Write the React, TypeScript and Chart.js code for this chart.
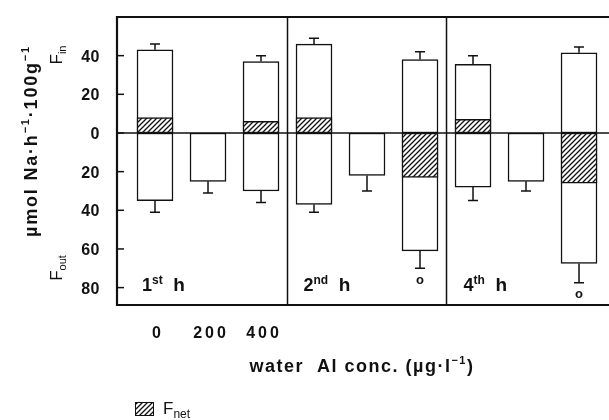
import React, { useEffect, useRef } from 'react';
import { Chart, registerables } from 'chart.js';
Chart.register(...registerables);

// ---- data ----
const concLabels = ['0', '200', '400'];
const panelNums = ['1', '2', '4'];
const panelSups = ['st', 'nd', 'th'];
const fin: (number | null)[] = [43, null, 37, 46, null, 38, 35.5, null, 41.5];
const finErr: (number | null)[] = [3, null, 3, 3, null, 4, 4.5, null, 3];
const fout: number[] = [35, 25, 30, 37, 22, 61, 28, 25, 67.5];
const foutErr: number[] = [6, 6, 6, 4, 8, 9, 7, 5, 10];
const fnet: (number | null)[] = [8, null, 6, 8, null, -23, 7, null, -26];
const sigMarks = ['', '', '', '', '', 'o', '', '', 'o'];
const yTickValues = [40, 20, 0, -20, -40, -60, -80];

const FONT = '"Liberation Sans", Arial, Helvetica, sans-serif';
const INK = '#111';

type Part = [string, number, number?];

function richWidth(ctx: CanvasRenderingContext2D, parts: Part[], weight: string, spacing: number) {
  let w = 0;
  for (const [t, s] of parts) {
    ctx.font = `${weight} ${s}px ${FONT}`;
    (ctx as any).letterSpacing = `${spacing}px`;
    w += ctx.measureText(t).width;
  }
  return w;
}

function drawRich(ctx: CanvasRenderingContext2D, parts: Part[], x: number, y: number, align: 'left' | 'center' | 'right', weight = 'bold', spacing = 0) {
  const total = richWidth(ctx, parts, weight, spacing);
  let cx = align === 'center' ? x - total / 2 : align === 'right' ? x - total : x;
  ctx.textAlign = 'left';
  ctx.textBaseline = 'alphabetic';
  ctx.fillStyle = INK;
  for (const [t, s, dy] of parts) {
    ctx.font = `${weight} ${s}px ${FONT}`;
    (ctx as any).letterSpacing = `${spacing}px`;
    ctx.fillText(t, cx, y + (dy || 0));
    cx += ctx.measureText(t).width;
  }
  (ctx as any).letterSpacing = '0px';
}

function makeHatch(): CanvasPattern | string {
  const c = document.createElement('canvas');
  const n = 5;
  c.width = n;
  c.height = n;
  const g = c.getContext('2d');
  if (!g) return '#888';
  g.fillStyle = '#fff';
  g.fillRect(0, 0, n, n);
  g.strokeStyle = INK;
  g.lineWidth = 1.3;
  g.beginPath();
  g.moveTo(-1, n + 1);
  g.lineTo(n + 1, -1);
  g.moveTo(-1, 1);
  g.lineTo(1, -1);
  g.moveTo(n - 1, n + 1);
  g.lineTo(n + 1, n - 1);
  g.stroke();
  const p = g.createPattern(c, 'repeat');
  return p || '#888';
}

const decorPlugin = {
  id: 'decor',
  afterDatasetsDraw(chart: any) {
    const { ctx, chartArea } = chart;
    const xs = chart.scales.x;
    const ys = chart.scales.y;
    const { left, right, top, bottom } = chartArea;
    ctx.save();
    ctx.strokeStyle = INK;
    ctx.lineCap = 'butt';

    // zero line
    ctx.lineWidth = 1.5;
    ctx.beginPath();
    const y0 = ys.getPixelForValue(0);
    ctx.moveTo(left, y0);
    ctx.lineTo(right, y0);
    ctx.stroke();

    // panel dividers
    ctx.lineWidth = 1.5;
    [2.5, 5.5].forEach((v) => {
      const px = xs.getPixelForValue(v);
      ctx.beginPath();
      ctx.moveTo(px, top);
      ctx.lineTo(px, bottom);
      ctx.stroke();
    });

    // frame
    ctx.lineWidth = 2.2;
    ctx.beginPath();
    ctx.moveTo(right, top);
    ctx.lineTo(left, top);
    ctx.lineTo(left, bottom);
    ctx.lineTo(right, bottom);
    ctx.stroke();

    // inward y ticks + labels (absolute values)
    ctx.lineWidth = 1.5;
    yTickValues.forEach((v) => {
      const py = ys.getPixelForValue(v);
      ctx.beginPath();
      ctx.moveTo(left, py);
      ctx.lineTo(left + 7, py);
      ctx.stroke();
      drawRich(ctx, [[String(Math.abs(v)), 16]], left - 17, py + 6, 'right', 'bold', 0.5);
    });

    // error bars
    ctx.lineWidth = 1.5;
    const cap = 5;
    for (let i = 0; i < fout.length; i++) {
      const px = xs.getPixelForValue(i);
      const fi = fin[i];
      const fe = finErr[i];
      if (fi != null && fe != null) {
        const a = ys.getPixelForValue(fi);
        const b = ys.getPixelForValue(fi + fe);
        ctx.beginPath();
        ctx.moveTo(px, a);
        ctx.lineTo(px, b);
        ctx.moveTo(px - cap, b);
        ctx.lineTo(px + cap, b);
        ctx.stroke();
      }
      const a2 = ys.getPixelForValue(-fout[i]);
      const b2 = ys.getPixelForValue(-fout[i] - foutErr[i]);
      ctx.beginPath();
      ctx.moveTo(px, a2);
      ctx.lineTo(px, b2);
      ctx.moveTo(px - cap, b2);
      ctx.lineTo(px + cap, b2);
      ctx.stroke();
      if (sigMarks[i]) {
        ctx.font = `bold 13px ${FONT}`;
        ctx.fillStyle = INK;
        ctx.textAlign = 'center';
        ctx.textBaseline = 'middle';
        ctx.fillText(sigMarks[i], px, b2 + 12);
      }
    }

    // panel labels
    const panelStarts = [left + 25, xs.getPixelForValue(2.5) + 16, xs.getPixelForValue(5.5) + 17];
    const labelY = ys.getPixelForValue(-82);
    panelNums.forEach((n, i) => {
      drawRich(ctx, [[n, 18], [panelSups[i], 12, -7], ['  h', 19]], panelStarts[i], labelY, 'left', 'bold', 0);
    });

    // x tick labels (first panel only)
    concLabels.forEach((t, i) => {
      drawRich(ctx, [[t, 16]], xs.getPixelForValue(i) + 3, bottom + 33, 'center', 'bold', 3);
    });

    // x title
    drawRich(ctx, [['water  Al conc. (\u00b5g\u00b7l', 18], ['\u22121', 11, -8], [')', 18]], 362, bottom + 67, 'center', 'bold', 1.5);

    // y title (rotated)
    ctx.save();
    ctx.translate(37, 141);
    ctx.rotate(-Math.PI / 2);
    drawRich(ctx, [['\u00b5mol Na\u00b7h', 18], ['\u22121', 11, -8], ['\u00b7100g', 18], ['\u22121', 11, -8]], 0, 0, 'center', 'bold', 1.8);
    ctx.restore();

    // F_in / F_out
    ctx.save();
    ctx.translate(62, 55);
    ctx.rotate(-Math.PI / 2);
    drawRich(ctx, [['F', 17], ['in', 11, 4]], 0, 0, 'center', 'normal', 0);
    ctx.restore();
    ctx.save();
    ctx.translate(62, 268);
    ctx.rotate(-Math.PI / 2);
    drawRich(ctx, [['F', 17], ['out', 11, 4]], 0, 0, 'center', 'normal', 0);
    ctx.restore();

    // legend
    const ds = chart.data.datasets[0];
    ctx.fillStyle = ds.backgroundColor;
    ctx.fillRect(135, 402, 18, 13);
    ctx.lineWidth = 1;
    ctx.strokeRect(135.5, 402.5, 18, 13);
    drawRich(ctx, [['F', 17], [ds.label.slice(1), 12, 4]], 163, 414, 'left', 'normal', 0);

    ctx.restore();
  },
};

export default function App() {
  const ref = useRef<HTMLCanvasElement>(null);
  useEffect(() => {
    if (!ref.current) return;
    const hatch = makeHatch();
    const netData: any[] = [];
    const inData: any[] = [];
    const outData: any[] = [];
    for (let i = 0; i < fout.length; i++) {
      const n = fnet[i];
      const f = fin[i];
      if (n != null) netData.push({ x: i, y: [0, n] });
      if (f != null) inData.push({ x: i, y: [0, f] });
      outData.push({ x: i, y: [-fout[i], 0] });
    }
    const common = {
      grouped: false,
      barThickness: 36,
      borderColor: INK,
      borderWidth: 1.5,
      borderSkipped: false as const,
    };
    const chart = new Chart(ref.current, {
      type: 'bar',
      data: {
        datasets: [
          { label: 'Fnet', data: netData, backgroundColor: hatch as any, ...common },
          { label: 'Fin', data: inData, backgroundColor: '#fff', ...common },
          { label: 'Fout', data: outData, backgroundColor: '#fff', ...common },
        ],
      },
      options: {
        animation: false,
        responsive: false,
        devicePixelRatio: 1,
        layout: { padding: { left: 0, top: 17, right: 16, bottom: 115 } },
        plugins: { legend: { display: false }, tooltip: { enabled: false } },
        scales: {
          x: { type: 'linear', min: -0.717, max: 8.66, display: false, offset: false },
          y: {
            min: -89,
            max: 60,
            grid: { display: false, drawTicks: false },
            border: { display: false },
            ticks: { display: false },
            afterFit: (s: any) => {
              s.width = 117;
            },
          },
        },
      },
      plugins: [decorPlugin],
    } as any);
    return () => chart.destroy();
  }, []);
  return (
    <div style={{ position: 'fixed', left: 0, top: 0, width: 609, height: 420, overflow: 'hidden', background: '#fff' }}>
      <canvas ref={ref} width={630} height={420} style={{ display: 'block', width: 630, height: 420 }} />
    </div>
  );
}
